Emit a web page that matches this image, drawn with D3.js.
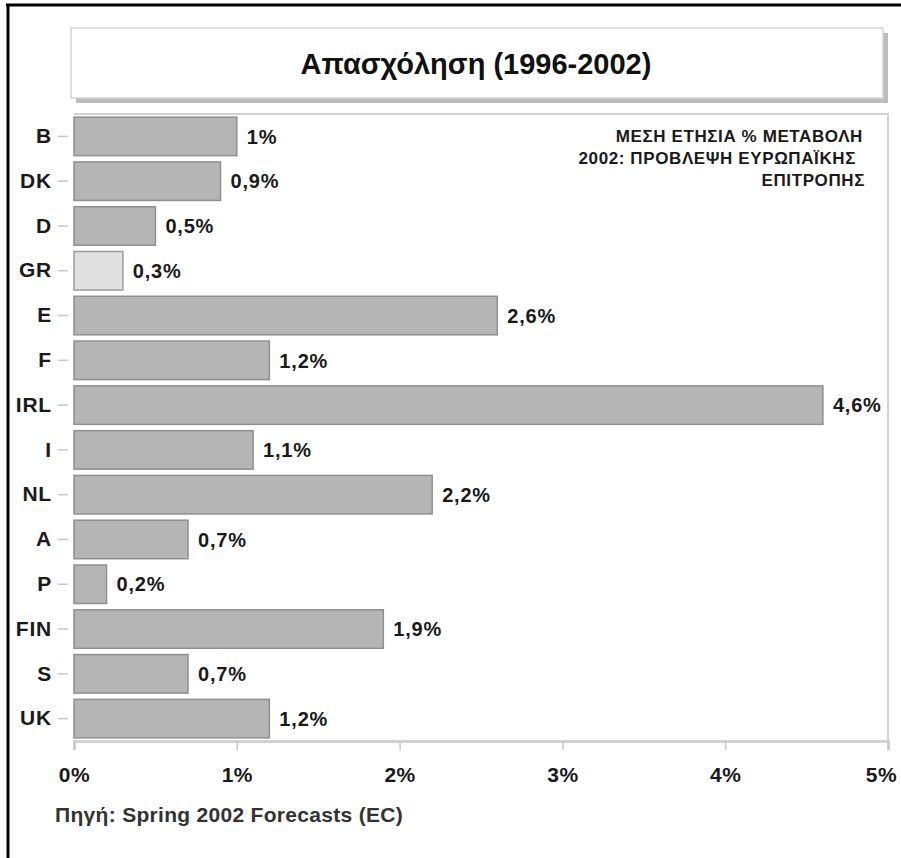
<!DOCTYPE html>
<html><head><meta charset="utf-8">
<script src="https://cdn.jsdelivr.net/npm/d3@7"></script>
<style>body{margin:0;background:#fff}svg{display:block}</style>
</head><body>
<svg id="c" width="901" height="858"></svg>
<script>
const categories = ["B","DK","D","GR","E","F","IRL","I","NL","A","P","FIN","S","UK"];
const values = [1,0.9,0.5,0.3,2.6,1.2,4.6,1.1,2.2,0.7,0.2,1.9,0.7,1.2];
const highlight = ["GR"];
const xTicks = [0,1,2,3,4,5];
const title = "Απασχόληση (1996-2002)";
const note = ["ΜΕΣΗ ΕΤΗΣΙΑ % ΜΕΤΑΒΟΛΗ","2002: ΠΡΟΒΛΕΨΗ ΕΥΡΩΠΑΪΚΗΣ","ΕΠΙΤΡΟΠΗΣ"];
const source = "Πηγή: Spring 2002 Forecasts (EC)";

const svg = d3.select("#c");
const F = "'Liberation Sans', Arial, sans-serif";
svg.append("rect").attr("width",901).attr("height",858).attr("fill","#fff");

// outer border (top & left)
svg.append("line").attr("x1",6).attr("x2",901).attr("y1",5).attr("y2",5).attr("stroke","#000").attr("stroke-width",3);
svg.append("line").attr("x1",8).attr("x2",8).attr("y1",4).attr("y2",858).attr("stroke","#000").attr("stroke-width",3);

// title box
svg.append("rect").attr("x",76).attr("y",33).attr("width",812).attr("height",70).attr("fill","#bcbcbc");
svg.append("rect").attr("x",71).attr("y",28).attr("width",812).attr("height",70).attr("fill","#fff").attr("stroke","#d4d4d4").attr("stroke-width",1.5);
svg.append("text").attr("x",476).attr("y",74).attr("text-anchor","middle")
  .attr("font-family",F).attr("font-weight","bold")
  .attr("font-size",29).attr("fill","#111").text(title);

const x = d3.scaleLinear().domain([0,5]).range([74,888]);
const y = d3.scaleBand().domain(categories).range([114,741]).paddingInner(0.14).paddingOuter(0.07);

// frame
const frameC = "#d2d2d2";
svg.append("line").attr("x1",74).attr("x2",889).attr("y1",114).attr("y2",114).attr("stroke",frameC).attr("stroke-width",2);
svg.append("line").attr("x1",888).attr("x2",888).attr("y1",113).attr("y2",750).attr("stroke",frameC).attr("stroke-width",2);

// x axis
const xa = svg.append("g").attr("transform","translate(0,741)")
  .call(d3.axisBottom(x).tickValues(xTicks).tickSize(9).tickFormat(d=>d+"%"));
xa.select(".domain").attr("stroke",frameC).attr("stroke-width",3);
xa.selectAll(".tick line").attr("stroke","#c8c8c8").attr("stroke-width",1.5);
xa.selectAll(".tick text").attr("font-family",F).attr("font-weight","bold").attr("font-size",21)
  .attr("letter-spacing",0.5).attr("fill","#1a1a1a").attr("dy","1.4em")
  .attr("dx",d=>d===5?-7:0);

// y axis
const ya = svg.append("g").attr("transform","translate(68,0)")
  .call(d3.axisLeft(y).tickSize(10).tickPadding(6));
ya.select(".domain").remove();
ya.selectAll(".tick line").attr("stroke","#c8c8c8").attr("stroke-width",1.5);
ya.selectAll(".tick text").attr("font-family",F).attr("font-weight","bold").attr("font-size",21)
  .attr("letter-spacing",0.8).attr("fill","#1a1a1a");

// bars
const data = categories.map((c,i)=>({c, v: values[i]}));
svg.append("g").selectAll("rect").data(data).join("rect")
  .attr("x",x(0)).attr("y",d=>y(d.c)).attr("width",d=>x(d.v)-x(0)).attr("height",y.bandwidth())
  .attr("fill",d=>highlight.includes(d.c)?"#e0e0e0":"#b5b5b5")
  .attr("stroke",d=>highlight.includes(d.c)?"#9c9c9c":"#8f8f8f").attr("stroke-width",1.5);

const fmt = v => String(v).replace(".",",")+"%";
svg.append("g").selectAll("text").data(data).join("text")
  .attr("x",d=>x(d.v)+10).attr("y",d=>y(d.c)+y.bandwidth()/2).attr("dy","0.36em")
  .attr("font-family",F).attr("font-weight","bold").attr("font-size",20).attr("letter-spacing",0.8)
  .attr("fill","#1a1a1a").text(d=>fmt(d.v));

// note
const noteX = [863,856,865];
svg.append("g").selectAll("text").data(note).join("text")
  .attr("x",(d,i)=>noteX[i]).attr("y",(d,i)=>142+i*22).attr("text-anchor","end")
  .attr("font-family",F).attr("font-weight","bold").attr("font-size",17).attr("letter-spacing",0.6)
  .attr("fill","#1a1a1a").text(d=>d);

// source
svg.append("text").attr("x",55).attr("y",822).attr("font-family",F).attr("font-weight","bold")
  .attr("font-size",21).attr("letter-spacing",0.3).attr("fill","#333").text(source);
</script>
</body></html>
